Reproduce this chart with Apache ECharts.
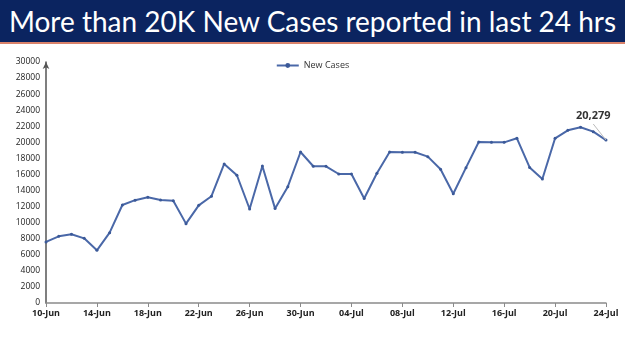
<!DOCTYPE html>
<html>
<head>
<meta charset="utf-8">
<script src="https://cdn.jsdelivr.net/npm/echarts@6/dist/echarts.min.js"></script>
<style>
html,body{margin:0;padding:0;background:#fff;}
#banner{position:absolute;left:0;top:0;width:625px;height:42px;background:#0b2460;border-bottom:2px solid #d9826a;color:#fff;font-family:Lato,"Open Sans",sans-serif;font-size:28px;line-height:42px;text-align:center;white-space:nowrap;}
#chart{position:absolute;left:0;top:0;width:625px;height:351px;}
</style>
</head>
<body>
<div id="chart"></div>
<div id="banner"></div>
<script>
const titleText = "More than 20K New Cases reported in last 24 hrs";
const seriesName = "New Cases";
const categories = ["10-Jun","11-Jun","12-Jun","13-Jun","14-Jun","15-Jun","16-Jun","17-Jun","18-Jun","19-Jun","20-Jun","21-Jun","22-Jun","23-Jun","24-Jun","25-Jun","26-Jun","27-Jun","28-Jun","29-Jun","30-Jun","01-Jul","02-Jul","03-Jul","04-Jul","05-Jul","06-Jul","07-Jul","08-Jul","09-Jul","10-Jul","11-Jul","12-Jul","13-Jul","14-Jul","15-Jul","16-Jul","17-Jul","18-Jul","19-Jul","20-Jul","21-Jul","22-Jul","23-Jul","24-Jul"];
const newCases = [7600,8300,8550,8050,6560,8760,12200,12800,13160,12830,12740,9880,12160,13290,17310,15900,11700,17060,11750,14480,18800,17020,17020,16060,16060,13000,16150,18800,18760,18760,18220,16650,13600,16850,20050,20000,20000,20500,16880,15440,20500,21500,21880,21330,20279];
const yTicks = {min:0, max:30000, interval:2000};
const lastLabel = "20,279";

document.getElementById('banner').textContent = titleText;
const chart = echarts.init(document.getElementById('chart'));
const lastIdx = newCases.length - 1;
chart.setOption({
  animation:false,
  grid:{left:46,right:19,top:62,bottom:48},
  legend:{top:56,left:'center',itemWidth:22,itemHeight:6,textStyle:{fontSize:9,color:'#333',fontFamily:'Open Sans'},data:[seriesName]},
  xAxis:{type:'category',boundaryGap:false,data:categories,
    axisLine:{lineStyle:{color:'#8a8a8a',width:1.5}},
    axisTick:{show:true,interval:3,length:4,lineStyle:{color:'#8a8a8a'}},
    axisLabel:{interval:3,fontSize:9,fontWeight:'bold',color:'#222',margin:6,fontFamily:'Open Sans'}},
  yAxis:{type:'value',min:yTicks.min,max:yTicks.max,interval:yTicks.interval,
    splitLine:{show:false},
    axisLine:{show:true,symbol:['none','arrow'],symbolSize:[5,7],lineStyle:{color:'#555',width:1.5}},
    axisTick:{show:false},
    axisLabel:{fontSize:8.5,color:'#222',margin:6,fontFamily:'Open Sans',formatter:v=>String(v)}},
  series:[{name:seriesName,type:'line',data:newCases,smooth:false,
    symbol:'circle',symbolSize:3,
    lineStyle:{color:'#4a68a8',width:2},itemStyle:{color:'#3b5998'},
    markPoint:{symbol:'circle',symbolSize:1,itemStyle:{color:'rgba(0,0,0,0)'},
      data:[{coord:[lastIdx-1.2,newCases[lastIdx]+3000]}],
      label:{show:true,position:'inside',formatter:lastLabel,fontSize:11,fontWeight:'bold',color:'#333',fontFamily:'Open Sans'}},
    markLine:{symbol:'none',silent:true,label:{show:false},lineStyle:{color:'#bbb',type:'solid',width:1},
      data:[[{coord:[lastIdx-0.6,newCases[lastIdx]+2000]},{coord:[lastIdx,newCases[lastIdx]]}]]}
  }]
});
</script>
</body>
</html>
